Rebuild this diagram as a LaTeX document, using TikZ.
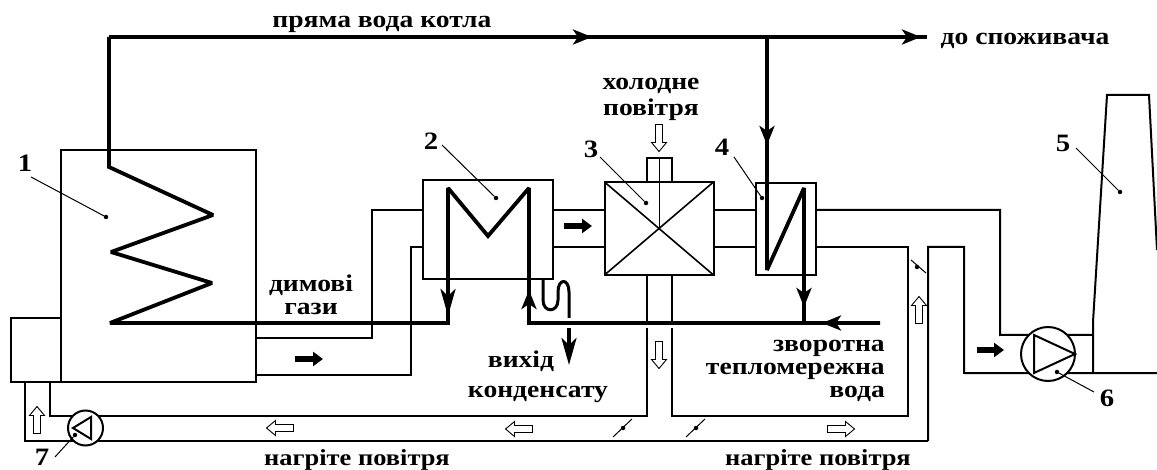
\documentclass[tikz,border=0pt]{standalone}
\usepackage{fontspec}
\setmainfont{Liberation Serif}[FakeStretch=1.15]
\usetikzlibrary{arrows.meta}
\usetikzlibrary{calc}
\tikzstyle{unit}=[rectangle,draw,line width=2pt,outer sep=0pt,inner sep=0pt]
\tikzstyle{wheel}=[circle,draw,line width=2pt,outer sep=0pt,inner sep=0pt]
\tikzstyle{duct} = [draw,line width=2pt]
\tikzstyle{pipe} = [draw,line width=3.8pt,line join=miter]
\tikzstyle{coil} = [pipe,miter limit=1.7]
\tikzstyle{lead} = [draw,line width=1pt]
\tikzstyle{spot} = [circle,fill=black,minimum size=4.5pt,inner sep=0pt,outer sep=0pt]
\tikzstyle{num} = [font=\bfseries\fontsize{25}{25}\selectfont,inner sep=0pt]
\tikzstyle{caption} = [font=\bfseries\fontsize{24}{23}\selectfont,inner sep=0pt,align=center]
\tikzstyle{tip} = [-{Stealth[length=19pt,width=15pt,inset=5pt]}]
\tikzstyle{longtip} = [-{Stealth[length=27pt,width=15pt,inset=7pt]}]
\tikzstyle{gas} = [line width=6pt,-{Triangle[length=10pt,width=14pt]}]
\tikzstyle{air} = [draw,fill=white,line width=0.9pt]
% hollow air arrow, pointing along +x before rotation
\newcommand{\airarrow}[3]{
    \path[air] (#1,#2) [rotate around={#3:(#1,#2)}] ++(-13.5,-3.5) -- ++(18,0) -- ++(0,-4) -- ++(9,7.5) -- ++(-9,7.5) -- ++(0,-4) -- ++(-18,0) -- cycle;
}

\begin{document}
\begin{tikzpicture}[x=1pt,y=-1pt]
    \useasboundingbox (0,0) rectangle (1157,470);

    % boxes
    \node[unit,minimum width=195pt,minimum height=232pt] (boiler) at (158.5,266) {};
    \node[unit,minimum width=50pt,minimum height=64pt] (burner) at (36,350) {};
    \node[unit,minimum width=130pt,minimum height=99pt] (econ) at (488,229.5) {};
    \node[unit,minimum width=109pt,minimum height=93pt] (airheat) at (659,228.5) {};
    \node[unit,minimum width=25pt,minimum height=24pt] (inlet) at (659,170) {};
    \node[unit,minimum width=60pt,minimum height=92pt] (cond) at (785.5,229) {};
    \node[wheel,minimum size=54pt] (fan) at (1048,354) {};

    % duct
    \path[duct] (boiler.east |- 0,338) -- (372,338) -- (372,210) -- (econ.west |- 0,210);
    \path[duct] (boiler.east |- 0,375) -- (411,375) -- (411,247) -- (econ.west |- 0,247);
    \foreach \level in {210,247} {
        \path[duct] (econ.east |- 0,\level) -- (airheat.west |- 0,\level);
        \path[duct] (airheat.east |- 0,\level) -- (cond.west |- 0,\level);
    }
    \path[duct] (cond.east |- 0,210) -- (1000,210) -- (1000,335) -- (fan.135);
    \path[duct] (fan.45) -- (1093,335);
    \path[duct] (cond.east |- 0,247) -- (908,247) -- (908,416) -- (672,416) -- (672,328);
    \path[duct] (672,323) -- (airheat.south -| 672,0);
    \path[duct] (928,441) -- (928,247) -- (964,247) -- (964,373) -- (fan.225);
    \path[duct] (fan.315) -- (1157,373);
    \path[duct] (647,275) -- (647,323);
    \path[duct] (647,328) -- (647,416) -- (50,416) -- (50,382);
    \path[duct] (928,441) -- (25,441) -- (25,382);

    % chimney
    \path[duct] (1093,373) -- (1093,322) -- (1107,95) -- (1149,95) -- (1157,250);

    % air heater
    \draw[line width=1.6pt] (airheat.north west) -- (airheat.south east);
    \draw[line width=1.6pt] (airheat.north east) -- (airheat.south west);
    \draw[lead] (inlet.north) -- (airheat.center);

    % fans
    \node[wheel,fill=white,minimum size=35pt] (blower) at (85.5,428) {};
    \path[duct,line join=miter] (1034,335) -- (1034,373) -- (1075,354) -- cycle;
    \path[duct,line join=miter] (73,428) -- (91,417) -- (91,439) -- cycle;

    % water
    \path[pipe] (109,37) -- (927,37);
    \path[coil] (109,37) -- (109,167) -- (213,215) -- (111,252) -- (212,283) -- (110,323) -- (448,323) -- (448,188) -- (488,236) -- (529,188) -- (529,323) -- (880,323);
    \path[coil] (767,37) -- (767,270) -- (804,188) -- (804,323);

    % tips
    \path[pipe,tip] (570,37) -- (592,37);
    \path[pipe,tip] (895,37) -- (921,37);
    \path[pipe,tip] (767,115) -- (767,145);
    \path[pipe,longtip] (448,280) -- (448,316);
    \path[pipe,tip] (529,323) -- (529,290);
    \path[pipe,tip] (804,280) -- (804,307);
    \path[pipe,tip] (845,323) -- (822,323);

    % condensate
    \path[draw,line width=3pt] (543,279) -- (543,300) .. controls (543,313) and (558,313) .. (558,300) -- (558,292) .. controls (558,278) and (569,278) .. (569,292) -- (569,318);
    \path[pipe,longtip] (569,328) -- (569,365);

    % dampers
    \foreach \x in {623,696} {
        \draw[lead] (\x-10,437) -- (\x+9,419);
        \node[spot] (vane\x) at (\x,428) {};
    }
    \draw[lead] (911,260) -- (926,273);
    \node[spot] (vane) at (917,267) {};

    % gas arrows
    \draw[gas] (295,359) -- (323,359);
    \draw[gas] (564,226) -- (592,226);
    \draw[gas] (977,350) -- (1004,350);

    % air arrows
    \airarrow{37}{420}{90}
    \airarrow{280}{428}{180}
    \airarrow{519}{429}{180}
    \airarrow{659}{355}{-90}
    \airarrow{841}{429}{0}
    \airarrow{919}{310}{90}
    \airarrow{659}{138}{-90}

    % numbers
    \node[num] (n1) at (25,163) {1};
    \node[num] (n2) at (431,141) {2};
    \node[num] (n3) at (591,149) {3};
    \node[num] (n4) at (722,147) {4};
    \node[num] (n5) at (1063,143) {5};
    \node[num] (n6) at (1107,398) {6};
    \node[num] (n7) at (42,457) {7};
    \node[spot] (s1) at (106,217) {};
    \node[spot] (s2) at (496,198) {};
    \node[spot] (s3) at (646,203) {};
    \node[spot] (s4) at (762,198) {};
    \node[spot] (s5) at (1120,192) {};
    \node[spot] (s6) at (1057,372) {};
    \node[spot] (s7) at (75,435) {};
    \draw[lead] (n1) ++(6,14) -- (s1);
    \draw[lead] (n2) ++(11,4) -- (s2);
    \draw[lead] (n3) ++(9,8) -- (s3);
    \draw[lead] (n4) ++(12,10) -- (s4);
    \draw[lead] (n5) ++(13,5) -- (s5);
    \draw[lead] (n6) ++(-13,-6) -- (s6);
    \draw[lead] (n7) ++(13,0) -- (s7);

    % captions
    \node[caption,anchor=base] (c1) at (382,28) {пряма вода котла};
    \node[caption,anchor=base] (c2) at (1025,45) {до споживача};
    \node[caption] (c3) at (311,295) {димові\\гази};
    \node[caption] (c4) at (651,99) {холодне\\[3pt]повітря};
    \node[caption,anchor=base] (c5) at (521,367) {вихід};
    \node[caption,anchor=base] (c9) at (538,397) {конденсату};
    \node[caption,align=right,anchor=east] (c6) at (885,371) {зворотна\\тепломережна\\вода};
    \node[caption,anchor=base,font=\bfseries\fontsize{23}{23}\selectfont] (c7) at (357,465) {нагріте повітря};
    \node[caption,anchor=base,font=\bfseries\fontsize{23}{23}\selectfont] (c8) at (818,465) {нагріте повітря};
\end{tikzpicture}
\end{document}
